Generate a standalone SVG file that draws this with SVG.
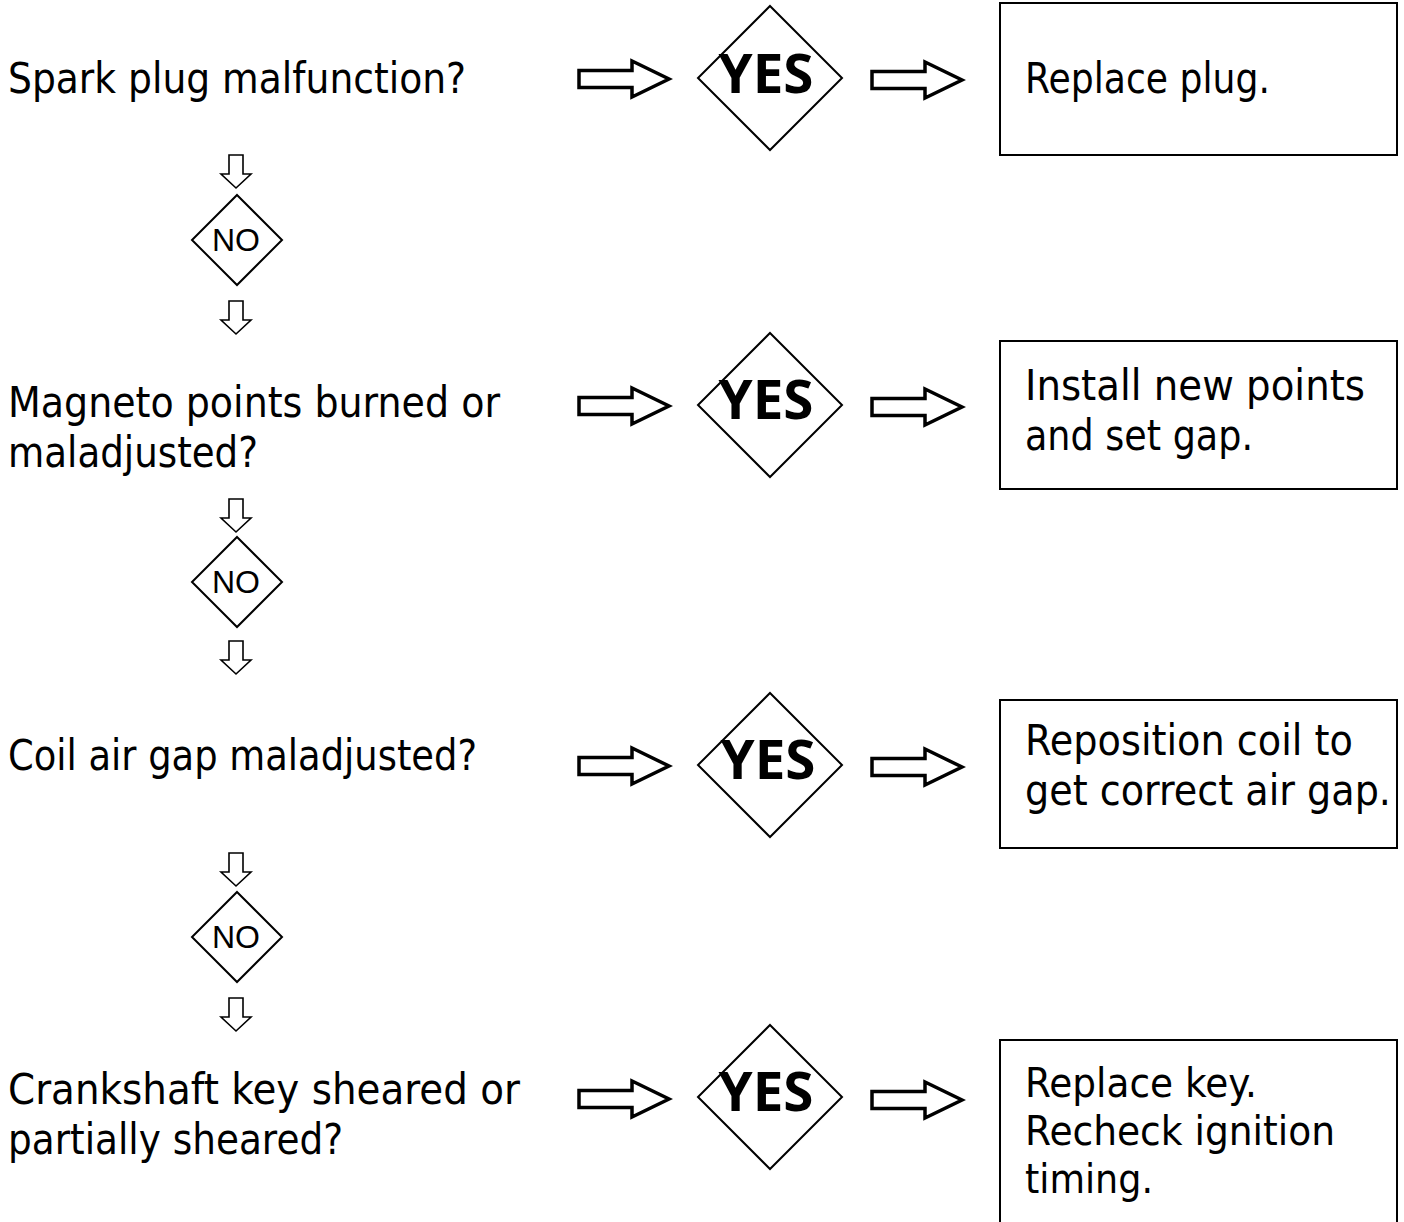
<svg xmlns="http://www.w3.org/2000/svg" xmlns:xlink="http://www.w3.org/1999/xlink" width="1404" height="1222" viewBox="0 0 1404 1222">
<defs>
<style>
.q{font-family:"DejaVu Sans","Open Sans",sans-serif;font-size:42px;fill:#000}
.s{font-size:40px}
.yes{font-family:"Open Sans","Noto Sans","DejaVu Sans",sans-serif;font-size:54px;font-weight:bold;fill:#000;text-anchor:middle}
.no{font-family:"Liberation Sans","Open Sans",sans-serif;font-size:31px;fill:#000;text-anchor:middle}
.dia{fill:#fff;stroke:#000;stroke-width:2}
.box{fill:#fff;stroke:#000;stroke-width:2}
.harrow{fill:#fff;stroke:#000;stroke-width:3.5;stroke-linejoin:miter}
.varrow{fill:#fff;stroke:#000;stroke-width:1.6;stroke-linejoin:miter}
</style>
<path id="ha" d="M0,-8.5 H53 V-18 L90,0 L53,18 V8.5 H0 Z"/>
<path id="va" d="M-7,0 H7 V19 H15 L0,33 L-15,19 H-7 Z"/>
<path id="dy" d="M0,-72 L72,0 L0,72 L-72,0 Z"/>
<path id="dn" d="M0,-45 L45,0 L0,45 L-45,0 Z"/>
</defs>
<rect width="1404" height="1222" fill="#fff"/>

<g id="connectors">
<use xlink:href="#ha" class="harrow" transform="translate(579,79)"/>
<use xlink:href="#ha" class="harrow" transform="translate(872,80)"/>
<use xlink:href="#ha" class="harrow" transform="translate(579,406)"/>
<use xlink:href="#ha" class="harrow" transform="translate(872,407)"/>
<use xlink:href="#ha" class="harrow" transform="translate(579,766)"/>
<use xlink:href="#ha" class="harrow" transform="translate(872,767)"/>
<use xlink:href="#ha" class="harrow" transform="translate(579,1099)"/>
<use xlink:href="#ha" class="harrow" transform="translate(872,1100)"/>
<use xlink:href="#va" class="varrow" transform="translate(236,155)"/>
<use xlink:href="#va" class="varrow" transform="translate(236,301)"/>
<use xlink:href="#va" class="varrow" transform="translate(236,499)"/>
<use xlink:href="#va" class="varrow" transform="translate(236,641)"/>
<use xlink:href="#va" class="varrow" transform="translate(236,853)"/>
<use xlink:href="#va" class="varrow" transform="translate(236,998)"/>
</g>

<g id="q1"><text class="q" x="8" y="93" textLength="458" lengthAdjust="spacingAndGlyphs">Spark plug malfunction?</text></g>
<g id="q2"><text class="q" x="8" y="417" textLength="492" lengthAdjust="spacingAndGlyphs">Magneto points burned or</text>
<text class="q" x="8" y="467" textLength="250" lengthAdjust="spacingAndGlyphs">maladjusted?</text></g>
<g id="q3"><text class="q" x="8" y="770" textLength="469" lengthAdjust="spacingAndGlyphs">Coil air gap maladjusted?</text></g>
<g id="q4"><text class="q" x="8" y="1104" textLength="512" lengthAdjust="spacingAndGlyphs">Crankshaft key sheared or</text>
<text class="q" x="8" y="1154" textLength="335" lengthAdjust="spacingAndGlyphs">partially sheared?</text></g>

<g id="yes1"><use xlink:href="#dy" class="dia" transform="translate(770,78)"/><text class="yes" x="766" y="93" textLength="95" lengthAdjust="spacingAndGlyphs">YES</text></g>
<g id="yes2"><use xlink:href="#dy" class="dia" transform="translate(770,405)"/><text class="yes" x="766" y="419" textLength="95" lengthAdjust="spacingAndGlyphs">YES</text></g>
<g id="yes3"><use xlink:href="#dy" class="dia" transform="translate(770,765)"/><text class="yes" x="768" y="779" textLength="95" lengthAdjust="spacingAndGlyphs">YES</text></g>
<g id="yes4"><use xlink:href="#dy" class="dia" transform="translate(770,1097)"/><text class="yes" x="766" y="1111" textLength="95" lengthAdjust="spacingAndGlyphs">YES</text></g>

<g id="no1"><use xlink:href="#dn" class="dia" transform="translate(237,240)"/><text class="no" x="236" y="251" textLength="48" lengthAdjust="spacingAndGlyphs">NO</text></g>
<g id="no2"><use xlink:href="#dn" class="dia" transform="translate(237,582)"/><text class="no" x="236" y="593" textLength="48" lengthAdjust="spacingAndGlyphs">NO</text></g>
<g id="no3"><use xlink:href="#dn" class="dia" transform="translate(237,937)"/><text class="no" x="236" y="948" textLength="48" lengthAdjust="spacingAndGlyphs">NO</text></g>

<g id="a1"><rect class="box" x="1000" y="3" width="397" height="152"/>
<text class="q" x="1025" y="93" textLength="245" lengthAdjust="spacingAndGlyphs">Replace plug.</text></g>
<g id="a2"><rect class="box" x="1000" y="341" width="397" height="148"/>
<text class="q" x="1025" y="400" textLength="340" lengthAdjust="spacingAndGlyphs">Install new points</text>
<text class="q" x="1025" y="450" textLength="228" lengthAdjust="spacingAndGlyphs">and set gap.</text></g>
<g id="a3"><rect class="box" x="1000" y="700" width="397" height="148"/>
<text class="q" x="1025" y="755" textLength="328" lengthAdjust="spacingAndGlyphs">Reposition coil to</text>
<text class="q" x="1025" y="805" textLength="366" lengthAdjust="spacingAndGlyphs">get correct air gap.</text></g>
<g id="a4"><rect class="box" x="1000" y="1040" width="397" height="200"/>
<text class="q s" x="1025" y="1097" textLength="232" lengthAdjust="spacingAndGlyphs">Replace key.</text>
<text class="q s" x="1025" y="1145" textLength="310" lengthAdjust="spacingAndGlyphs">Recheck ignition</text>
<text class="q s" x="1025" y="1193" textLength="128" lengthAdjust="spacingAndGlyphs">timing.</text></g>
</svg>
